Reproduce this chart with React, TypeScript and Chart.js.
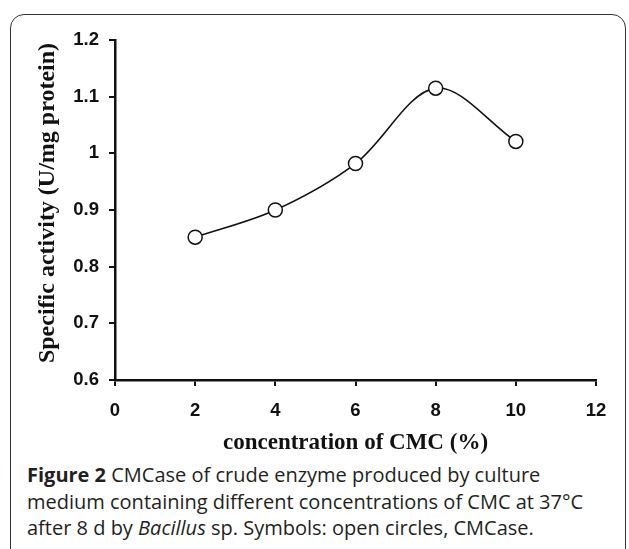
import React, { useEffect, useRef } from "react";
import { Chart, registerables } from "chart.js";

Chart.register(...registerables);

const concentrations = [2, 4, 6, 8, 10];
const activity = [0.852, 0.9, 0.982, 1.115, 1.021];
const xTicks = [0, 2, 4, 6, 8, 10, 12];
const yTicks = [0.6, 0.7, 0.8, 0.9, 1.0, 1.1, 1.2];
const yTitle = "Specific activity (U/mg protein)";
const xTitle = "concentration of CMC (%)";

const yTitlePlugin = {
  id: "yTitlePlugin",
  afterDraw(chart: any) {
    const ctx = chart.ctx;
    ctx.save();
    ctx.translate(48, 203);
    ctx.rotate(-Math.PI / 2);
    ctx.font = "bold 24px 'Liberation Serif'";
    ctx.fillStyle = "#111";
    ctx.textAlign = "center";
    ctx.textBaseline = "middle";
    ctx.fillText(yTitle, 0, 0);
    ctx.restore();
  },
};

export default function App() {
  const ref = useRef<HTMLCanvasElement | null>(null);
  useEffect(() => {
    if (!ref.current) return;
    const chart = new Chart(ref.current, {
      type: "line",
      data: {
        datasets: [
          {
            data: concentrations.map((x, i) => ({ x, y: activity[i] })),
            borderColor: "#111",
            borderWidth: 1.6,
            backgroundColor: "#fff",
            pointBackgroundColor: "#fff",
            pointBorderColor: "#111",
            pointBorderWidth: 1.5,
            pointRadius: 7,
            tension: 0.33,
            fill: false,
          },
        ],
      },
      plugins: [yTitlePlugin],
      options: {
        animation: false,
        responsive: false,
        devicePixelRatio: 1,
        layout: { padding: { top: 40, right: 33, left: 0, bottom: 0 } },
        plugins: { legend: { display: false }, tooltip: { enabled: false } },
        scales: {
          x: {
            type: "linear",
            min: 0,
            max: 12,
            afterBuildTicks: (s: any) => {
              s.ticks = xTicks.map((v) => ({ value: v }));
            },
            afterFit: (s: any) => {
              s.height = 77;
            },
            grid: { drawOnChartArea: false, drawTicks: true, tickLength: 6, color: "#111", lineWidth: 2 },
            border: { display: true, color: "#111", width: 2.5 },
            ticks: {
              color: "#111",
              padding: 14,
              font: { family: "Liberation Sans", size: 18.5, weight: "bold" },
            },
            title: {
              display: true,
              text: xTitle,
              color: "#111",
              padding: { top: 4, bottom: 0 },
              font: { family: "Liberation Serif", size: 23, weight: "bold" },
            },
          },
          y: {
            type: "linear",
            min: 0.6,
            max: 1.2,
            afterBuildTicks: (s: any) => {
              s.ticks = yTicks.map((v) => ({ value: v }));
            },
            afterFit: (s: any) => {
              s.width = 115;
            },
            grid: { drawOnChartArea: false, drawTicks: true, tickLength: 6, color: "#111", lineWidth: 2 },
            border: { display: true, color: "#111", width: 2.5 },
            ticks: {
              color: "#111",
              padding: 10,
              font: { family: "Liberation Sans", size: 18.5, weight: "bold" },
              callback: (v: any) => String(Math.round(Number(v) * 10) / 10),
            },
            title: { display: false },
          },
        },
      },
    });
    return () => chart.destroy();
  }, []);

  return (
    <div style={{ position: "fixed", left: 0, top: 0, width: 629, height: 549, background: "#fff", overflow: "hidden" }}>
      <div
        style={{
          position: "absolute",
          left: 10,
          top: 14,
          width: 616,
          height: 600,
          border: "1.5px solid #333",
          borderRadius: 14,
          boxSizing: "border-box",
        }}
      />
      <canvas ref={ref} width={629} height={457} style={{ position: "absolute", left: 0, top: 0 }} />
      <div
        style={{
          position: "absolute",
          left: 27,
          top: 462,
          width: 600,
          whiteSpace: "nowrap",
          fontFamily: "'Open Sans', sans-serif",
          fontSize: 20,
          lineHeight: "26.5px",
          color: "#231f20",
        }}
      >
        <b>Figure 2</b> CMCase of crude enzyme produced by culture
        <br />
        medium containing different concentrations of CMC at 37°C
        <br />
        after 8 d by <i>Bacillus</i> sp. Symbols: open circles, CMCase.
      </div>
    </div>
  );
}
